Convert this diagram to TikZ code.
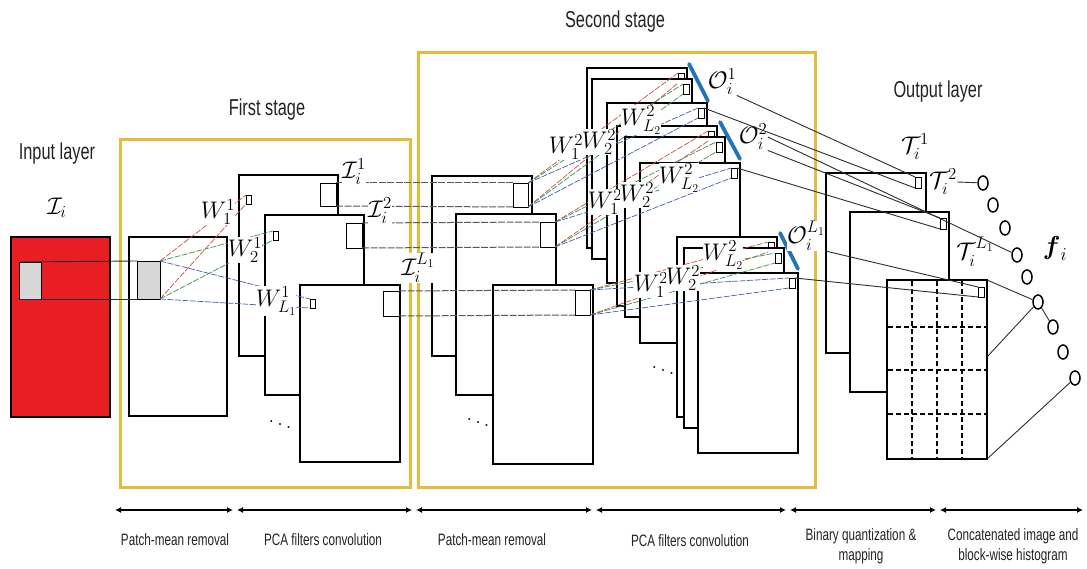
\RequirePackage{fix-cm}
\documentclass[tikz,border=0pt]{standalone}
\usepackage{amsmath}
\usepackage{fontspec}
\newfontfamily\lblfont[FakeStretch=0.71]{Liberation Sans}
\usetikzlibrary{arrows.meta,shapes.geometric}
\definecolor{stagey}{RGB}{231,188,60}
\definecolor{inred}{RGB}{232,30,36}
\definecolor{patchgray}{RGB}{215,215,215}
\definecolor{barblue}{RGB}{35,115,185}
\definecolor{lnred}{RGB}{205,80,70}
\definecolor{lngreen}{RGB}{60,145,85}
\definecolor{lnblue}{RGB}{70,95,165}
\definecolor{lngray}{RGB}{45,45,45}
\definecolor{txtgray}{RGB}{35,35,35}
\tikzset{
  fmap/.style={draw=black, fill=white, line width=1.4pt},
  patchnode/.style={draw=black, fill=white, line width=0.9pt, inner sep=0pt, outer sep=0pt, anchor=north west},
  stagebox/.style={draw=stagey, line width=3pt},
  lbl/.style={font=\lblfont\fontsize{23}{26}\selectfont, text=txtgray, inner sep=1pt},
  capt/.style={font=\lblfont\fontsize{16.5}{20}\selectfont, text=txtgray, align=center, inner sep=0pt},
  mlbl/.style={font=\fontsize{24}{24}\selectfont, fill=white, inner sep=0.3pt},
  tlbl/.style={font=\fontsize{24}{24}\selectfont, inner sep=0.3pt},
  dotsl/.style={font=\fontsize{24}{24}\selectfont, inner sep=0pt},
  conn/.style={draw=lngray, line width=0.9pt},
  cdash/.style={draw=gray!70!black, line width=1pt, dash pattern=on 7pt off 1.5pt},
  cred/.style={draw=lnred, line width=0.7pt, dash pattern=on 6pt off 1.5pt},
  cgreen/.style={draw=lngreen, line width=0.7pt, dash pattern=on 6pt off 1.5pt},
  cblue/.style={draw=lnblue, line width=0.7pt, dash pattern=on 6pt off 1.5pt},
  bluebar/.style={draw=barblue, line width=3.8pt, line cap=round},
  histc/.style={ellipse, draw=black, fill=white, line width=1.5pt, minimum width=10pt, minimum height=14pt, inner sep=0pt},
  gridl/.style={draw=black, line width=1.1pt, dash pattern=on 5pt off 3pt},
  span/.style={draw=black, line width=1.4pt, {Latex[length=6pt,width=6pt]}-{Latex[length=6pt,width=6pt]}},
}
% #1 name, #2 x, #3 y, #4 w, #5 h, #6 patch dx, #7 patch dy, #8 patch w, #9 patch h
\newcommand{\fmapbox}[9]{%
  \draw[fmap] (#2,#3) rectangle ++(#4,#5);
  \coordinate (#1ne) at (#2+#4,#3);
  \coordinate (#1e) at (#2+#4,#3+#5*0.43);
  \coordinate (#1se) at (#2+#4,#3+#5);
  \node[patchnode, minimum width=#8pt, minimum height=#9pt] (#1p) at (#2+#6,#3+#7) {};
}
\begin{document}
\begin{tikzpicture}[x=1pt,y=-1pt]
\useasboundingbox (0,0) rectangle (1087,569);

% stage frames
\draw[stagebox] (120,140) rectangle (410,487);
\draw[stagebox] (418,53) rectangle (815,487);

% input layer
\draw[fmap, fill=inred] (11,237) rectangle (110,417);
\node[patchnode, fill=patchgray, minimum width=22pt, minimum height=37pt] (ip) at (19,262) {};

% first stage: patch-mean removal
\draw[fmap] (129,237) rectangle (227,416);
\node[patchnode, fill=patchgray, minimum width=23pt, minimum height=38pt] (mp) at (137,261) {};

% first stage: PCA filter outputs
\fmapbox{Ba}{239}{175}{99}{181}{81}{8}{16}{23}
\node[patchnode, minimum width=5pt, minimum height=9pt] (Bas) at (246,195) {};
\fmapbox{Bb}{265}{215}{99}{180}{81}{8}{16}{25}
\node[patchnode, minimum width=5pt, minimum height=9pt] (Bbs) at (273,231) {};
\fmapbox{Bc}{300}{285}{100}{177}{83}{6}{16}{25}
\node[patchnode, minimum width=5pt, minimum height=9pt] (Bcs) at (310,299) {};

% second stage: patch-mean removal
\fmapbox{Ma}{432}{176}{100}{180}{81}{7}{15}{24}
\fmapbox{Mb}{456}{214}{100}{181}{84}{8}{15}{25}
\fmapbox{Mc}{493}{285}{100}{179}{82}{5}{15}{25}

% second stage: PCA filter outputs (three groups)
\fmapbox{Ga}{587}{68}{100}{180}{91}{5}{6}{10}
\fmapbox{Gb}{592}{79}{100}{180}{91}{5}{6}{10}
\fmapbox{Gc}{607}{103}{100}{180}{91}{5}{6}{10}
\fmapbox{Ha}{617}{126}{100}{180}{91}{5}{6}{10}
\fmapbox{Hb}{625}{137}{100}{180}{91}{5}{6}{10}
\fmapbox{Hc}{640}{163}{100}{180}{91}{5}{6}{10}
\fmapbox{Ka}{677}{237}{100}{180}{91}{5}{6}{10}
\fmapbox{Kb}{684}{248}{100}{180}{91}{5}{6}{10}
\fmapbox{Kc}{698}{273}{100}{180}{91}{5}{6}{10}

% output layer
\fmapbox{Ta}{826}{173}{100}{180}{89}{4}{6}{11}
\fmapbox{Tb}{850}{212}{99}{180}{90}{6}{6}{11}
\fmapbox{Tc}{887}{280}{100}{179}{91}{7}{6}{10}
\foreach \gx in {912,937,962} \draw[gridl] (\gx,281) -- (\gx,458);
\foreach \gy in {327,370,414} \draw[gridl] (888,\gy) -- (986,\gy);

% connectors: input -> patch-mean
\draw[conn] (ip.north west) -- (mp.north west);
\draw[conn] (ip.south west) -- (mp.south west);

% first-stage filters
\draw[cred] (mp.north east) -- (Bas.north west);
\draw[cred] (mp.south east) -- (Bas.south west);
\draw[cgreen] (mp.north east) -- (Bbs.north west);
\draw[cgreen] (mp.south east) -- (Bbs.south west);
\draw[cblue] (mp.north east) -- (Bcs.north west);
\draw[cblue] (mp.south east) -- (Bcs.south west);

% stage 1 -> stage 2
\draw[cdash] (Bap.north east) -- (Map.north west);
\draw[cdash] (Bap.south east) -- (Map.south west);
\draw[cdash] (Bbp.north east) -- (Mbp.north west);
\draw[cdash] (Bbp.south east) -- (Mbp.south west);
\draw[cdash] (Bcp.north east) -- (Mcp.north west);
\draw[cdash] (Bcp.south east) -- (Mcp.south west);

% second-stage filters
\draw[cred] (Map.north east) -- (Gap.north west);
\draw[cred] (Map.south east) -- (Gap.south west);
\draw[cgreen] (Map.north east) -- (Gbp.north west);
\draw[cgreen] (Map.south east) -- (Gbp.south west);
\draw[cblue] (Map.north east) -- (Gcp.north west);
\draw[cblue] (Map.south east) -- (Gcp.south west);
\draw[cred] (Mbp.north east) -- (Hap.north west);
\draw[cred] (Mbp.south east) -- (Hap.south west);
\draw[cgreen] (Mbp.north east) -- (Hbp.north west);
\draw[cgreen] (Mbp.south east) -- (Hbp.south west);
\draw[cblue] (Mbp.north east) -- (Hcp.north west);
\draw[cblue] (Mbp.south east) -- (Hcp.south west);
\draw[cred] (Mcp.north east) -- (Kap.north west);
\draw[cred] (Mcp.south east) -- (Kap.south west);
\draw[cgreen] (Mcp.north east) -- (Kbp.north west);
\draw[cgreen] (Mcp.south east) -- (Kbp.south west);
\draw[cblue] (Mcp.north east) -- (Kcp.north west);
\draw[cblue] (Mcp.south east) -- (Kcp.south west);

% blue bars
\coordinate (bar1a) at (689,64);  \coordinate (bar1b) at (708,101);
\coordinate (bar2a) at (720,122); \coordinate (bar2b) at (740,159);
\coordinate (bar3a) at (780,233); \coordinate (bar3b) at (798,269);
\draw[bluebar] (bar1a) -- (bar1b);
\draw[bluebar] (bar2a) -- (bar2b);
\draw[bluebar] (bar3a) -- (bar3b);

% histogram units
\node[histc] (c1) at (983,183) {};
\node[histc] (c2) at (993,205) {};
\node[histc] (c3) at (1005,228) {};
\node[histc] (c4) at (1017,255) {};
\node[histc] (c5) at (1027,277) {};
\node[histc] (c6) at (1038,302) {};
\node[histc] (c7) at (1053,327) {};
\node[histc] (c8) at (1063,352) {};
\node[histc] (c9) at (1075,378) {};

% labels
\node[lbl] (inlbl) at (57,154) {Input layer};
\node[lbl] (st1) at (267,110) {First stage};
\node[lbl] (st2) at (615,22) {Second stage};
\node[lbl] (outlbl) at (938,92) {Output layer};

\node[tlbl] (Ii) at (57,208) {$\mathcal{I}_i$};
\node[mlbl] (W11) at (218,212) {$W_1^1$};
\node[mlbl] (W21) at (245,250) {$W_2^1$};
\node[mlbl] (WL1) at (276,301) {$W_{L_1}^1$};
\node[mlbl] (I1) at (354,172) {$\mathcal{I}_i^1$};
\node[mlbl] (I2) at (380,211) {$\mathcal{I}_i^2$};
\node[mlbl] (IL) at (418,268) {$\mathcal{I}_i^{L_1}$};

\node[mlbl] (Wa1) at (566,147) {$W_1^2$};
\node[mlbl] (Wa2) at (599,142) {$W_2^2$};
\node[mlbl] (WaL) at (641,120) {$W_{L_2}^2$};
\node[mlbl] (Wb1) at (605,202) {$W_1^2$};
\node[mlbl] (Wb2) at (637,195) {$W_2^2$};
\node[mlbl] (WbL) at (679,178) {$W_{L_2}^2$};
\node[mlbl] (Wc1) at (651,285) {$W_1^2$};
\node[mlbl] (Wc2) at (683,278) {$W_2^2$};
\node[mlbl] (WcL) at (723,255) {$W_{L_2}^2$};

\node[mlbl] (O1) at (722,82) {$\mathcal{O}_i^1$};
\node[mlbl] (O2) at (753,137) {$\mathcal{O}_i^2$};
\node[mlbl] (OL) at (806,236) {$\mathcal{O}_i^{L_1}$};

\node[tlbl] (T1l) at (915,147) {$\mathcal{T}_i^1$};
\node[tlbl] (T2l) at (943,182) {$\mathcal{T}_i^2$};
\node[tlbl] (TLl) at (975,252) {$\mathcal{T}_i^{L_1}$};
\node[font=\fontsize{26}{26}\selectfont, inner sep=0pt] (fi) at (1055,248) {$\boldsymbol{f}_i$};

% stage 2 -> output connectors
\draw[conn] (O1.south east) -- (Tap.north west);
\draw[conn] (Gcp.north east) -- (Tap.south west);
\draw[conn] (O2.south east) -- (Tbp.north west);
\draw[conn] (Hcp.north east) -- (Tbp.south west);
\draw[conn] (O2.east) -- (c4);
\draw[conn] (OL.south east) -- (Tcp.north west);
\draw[conn] (Kcp.north east) -- (Tcp.south west);

% output -> histogram
\draw[conn] (T2l.east) -- (c1);
\draw[conn] (Tcne) -- (c6) -- (c7);
\draw[conn] (Tce) -- (c6);
\draw[conn] (Tcse) -- (c9);

% dots
\node[dotsl] (d1) at (280,422) {$\ddots$};
\node[dotsl] (d2) at (478,420) {$\ddots$};
\node[dotsl] (d3) at (663,368) {$\ddots$};

% bottom spans
\coordinate (s0) at (115,510);
\coordinate (s1) at (233,510);  \coordinate (s1b) at (237,510);
\coordinate (s2) at (412,510);  \coordinate (s2b) at (416,510);
\coordinate (s3) at (592,510);  \coordinate (s3b) at (596,510);
\coordinate (s4) at (786,510);  \coordinate (s4b) at (790,510);
\coordinate (s5) at (936,510);  \coordinate (s5b) at (940,510);
\coordinate (s6) at (1083,510);
\draw[span] (s0) -- (s1);
\draw[span] (s1b) -- (s2);
\draw[span] (s2b) -- (s3);
\draw[span] (s3b) -- (s4);
\draw[span] (s4b) -- (s5);
\draw[span] (s5b) -- (s6);

\node[capt] (cap1) at (175,540) {Patch-mean removal};
\node[capt] (cap2) at (323,540) {PCA filters convolution};
\node[capt] (cap3) at (492,540) {Patch-mean removal};
\node[capt] (cap4) at (690,541) {PCA filters convolution};
\node[capt] (cap5) at (861,546) {Binary quantization \&\\mapping};
\node[capt] (cap6) at (1013,546) {Concatenated image and\\block-wise histogram};
\end{tikzpicture}
\end{document}
